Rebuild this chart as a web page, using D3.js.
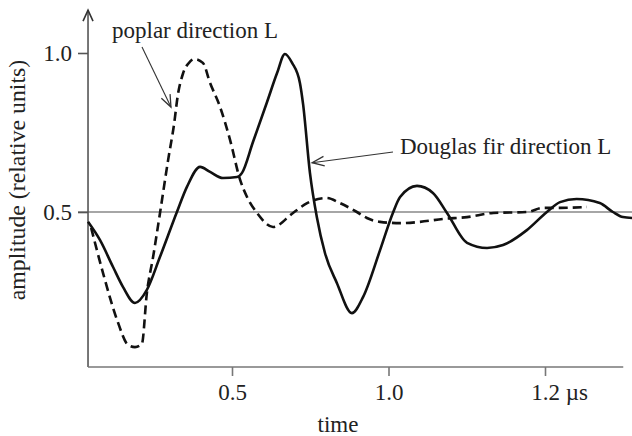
<!DOCTYPE html>
<html>
<head>
<meta charset="utf-8">
<script src="https://cdn.jsdelivr.net/npm/d3@7"></script>
<style>
  html, body { margin: 0; padding: 0; background: #fff; }
  svg { display: block; }
  text { font-family: "Liberation Serif", "Times New Roman", serif; fill: #222; }
</style>
</head>
<body>
<svg id="chart" width="632" height="436"></svg>
<script>
// ---- data (time in axis units, amplitude in relative units) ----
const douglasT = [0.040,0.078,0.120,0.152,0.190,0.228,0.270,0.324,0.356,0.398,0.430,0.471,0.516,0.532,0.567,0.612,0.644,0.669,0.692,0.717,0.727,0.749,0.771,0.797,0.835,0.883,0.919,0.973,1.014,1.037,1.091,1.142,1.187,1.251,1.315,1.366,1.442,1.506,1.548,1.601,1.675,1.717,1.749,1.778];
const douglasV = [0.469,0.412,0.327,0.264,0.214,0.255,0.359,0.500,0.579,0.642,0.626,0.607,0.610,0.623,0.720,0.846,0.937,0.997,0.969,0.906,0.840,0.623,0.484,0.371,0.277,0.182,0.233,0.380,0.497,0.547,0.582,0.560,0.497,0.403,0.387,0.396,0.443,0.500,0.531,0.541,0.528,0.500,0.484,0.481];

const poplarT = [0.050,0.088,0.133,0.168,0.190,0.212,0.228,0.248,0.270,0.296,0.315,0.327,0.343,0.365,0.381,0.407,0.430,0.462,0.494,0.526,0.548,0.580,0.631,0.695,0.740,0.803,0.845,0.899,0.931,0.973,1.037,1.101,1.174,1.251,1.335,1.442,1.494,1.548,1.634];
const poplarV = [0.450,0.308,0.160,0.082,0.075,0.085,0.245,0.359,0.497,0.664,0.777,0.868,0.934,0.972,0.981,0.969,0.906,0.830,0.726,0.601,0.547,0.497,0.453,0.497,0.528,0.544,0.528,0.500,0.481,0.469,0.465,0.469,0.478,0.484,0.497,0.500,0.513,0.513,0.516];

const xTickValues = [0.5, 1.0, 1.5];
const xTickLabels = ["0.5", "1.0", "1.2 µs"];
const yTickValues = [0.5, 1.0];
const yTickLabels = ["0.5", "1.0"];
const refLevel = 0.5;

const annPoplar = { label: "poplar direction L", tipT: 0.305, tipV: 0.83 };
const annDouglas = { label: "Douglas fir direction L", tipT: 0.756, tipV: 0.655 };

// ---- layout ----
const svg = d3.select("#chart");
const x = d3.scaleLinear().domain([0, 1.75]).range([75.5, 623.25]);
const y = d3.scaleLinear().domain([0, 1]).range([371, 53]);
const xAxisStart = 0.04, yAxisBottom = 0.0126, yAxisTop = 1.135;
const FS = 23;

const axisColor = "#555";

// reference line at 0.5
svg.append("line")
  .attr("x1", x(xAxisStart) - 10).attr("x2", 632)
  .attr("y1", y(refLevel)).attr("y2", y(refLevel))
  .attr("stroke", "#888").attr("stroke-width", 1.6);

// y axis line + arrow
const yx = x(xAxisStart);
svg.append("line")
  .attr("x1", yx).attr("x2", yx)
  .attr("y1", y(yAxisBottom)).attr("y2", y(yAxisTop))
  .attr("stroke", axisColor).attr("stroke-width", 1.6);
svg.append("path")
  .attr("d", `M${yx-5},${y(yAxisTop)+11} L${yx},${y(yAxisTop)} L${yx+5},${y(yAxisTop)+11}`)
  .attr("fill", "none").attr("stroke", "#333").attr("stroke-width", 1.6);

// y ticks via axis
const yAxis = d3.axisLeft(y).tickValues(yTickValues)
  .tickFormat((d, i) => yTickLabels[i]).tickSize(10).tickPadding(6);
const gy = svg.append("g").attr("transform", `translate(${yx},0)`).call(yAxis);
gy.select(".domain").remove();
gy.selectAll(".tick line").attr("stroke", axisColor).attr("stroke-width", 1.6);
gy.selectAll(".tick text").attr("font-size", FS).attr("fill", "#222")
  .attr("font-family", "Liberation Serif").attr("dy", "0.34em");

// x axis
const xAxis = d3.axisBottom(x).tickValues(xTickValues)
  .tickFormat((d, i) => xTickLabels[i]).tickSize(9).tickPadding(6);
const gx = svg.append("g").attr("transform", `translate(0,${y(yAxisBottom)})`).call(xAxis);
gx.select(".domain").attr("d", `M${x(xAxisStart)},0H${x(1.75)}`)
  .attr("stroke", "#777").attr("stroke-width", 1.6);
gx.selectAll(".tick line").attr("stroke", "#777").attr("stroke-width", 1.6);
gx.selectAll(".tick text").attr("font-size", FS).attr("fill", "#222")
  .attr("font-family", "Liberation Serif").attr("dy", "0.8em")
  .each(function(d, i) {
    const lab = xTickLabels[i];
    const sp = lab.indexOf(" ");
    if (sp > 0) {
      const t = d3.select(this);
      t.text(null).attr("text-anchor", "start");
      const num = t.append("tspan").text(lab.slice(0, sp));
      t.append("tspan").text(lab.slice(sp));
      t.attr("x", -num.node().getComputedTextLength() / 2);
    }
  });

// axis titles
svg.append("text").attr("x", 338).attr("y", 432).attr("text-anchor", "middle")
  .attr("font-size", FS).text("time");
svg.append("text").attr("transform", "translate(25,180) rotate(-90)")
  .attr("text-anchor", "middle").attr("font-size", 23.8)
  .text("amplitude (relative units)");

// curves
const line = d3.line().x(d => x(d[0])).y(d => y(d[1])).curve(d3.curveMonotoneX);
svg.append("path").datum(poplarT.map((t, i) => [t, poplarV[i]]))
  .attr("d", line).attr("fill", "none").attr("stroke", "#111")
  .attr("stroke-width", 2.6).attr("stroke-dasharray", "9,5");
svg.append("path").datum(douglasT.map((t, i) => [t, douglasV[i]]))
  .attr("d", line).attr("fill", "none").attr("stroke", "#111")
  .attr("stroke-width", 2.6).attr("stroke-linejoin", "round");

// annotations
function arrow(x0, y0, x1, y1) {
  svg.append("line").attr("x1", x0).attr("y1", y0).attr("x2", x1).attr("y2", y1)
    .attr("stroke", "#333").attr("stroke-width", 1.1);
  const a = Math.atan2(y1 - y0, x1 - x0), L = 13, h = 0.38;
  const p1 = [x1 - L * Math.cos(a - h), y1 - L * Math.sin(a - h)];
  const p2 = [x1 - L * Math.cos(a + h), y1 - L * Math.sin(a + h)];
  svg.append("path").attr("d", `M${p1[0]},${p1[1]} L${x1},${y1} L${p2[0]},${p2[1]}`)
    .attr("fill", "none").attr("stroke", "#333").attr("stroke-width", 1.3);
}
svg.append("text").attr("x", 112).attr("y", 38).attr("font-size", FS).text(annPoplar.label);
arrow(142, 47, x(annPoplar.tipT), y(annPoplar.tipV));
svg.append("text").attr("x", 400).attr("y", 154).attr("font-size", FS).text(annDouglas.label);
arrow(393, 152, x(annDouglas.tipT), y(annDouglas.tipV));
</script>
</body>
</html>
